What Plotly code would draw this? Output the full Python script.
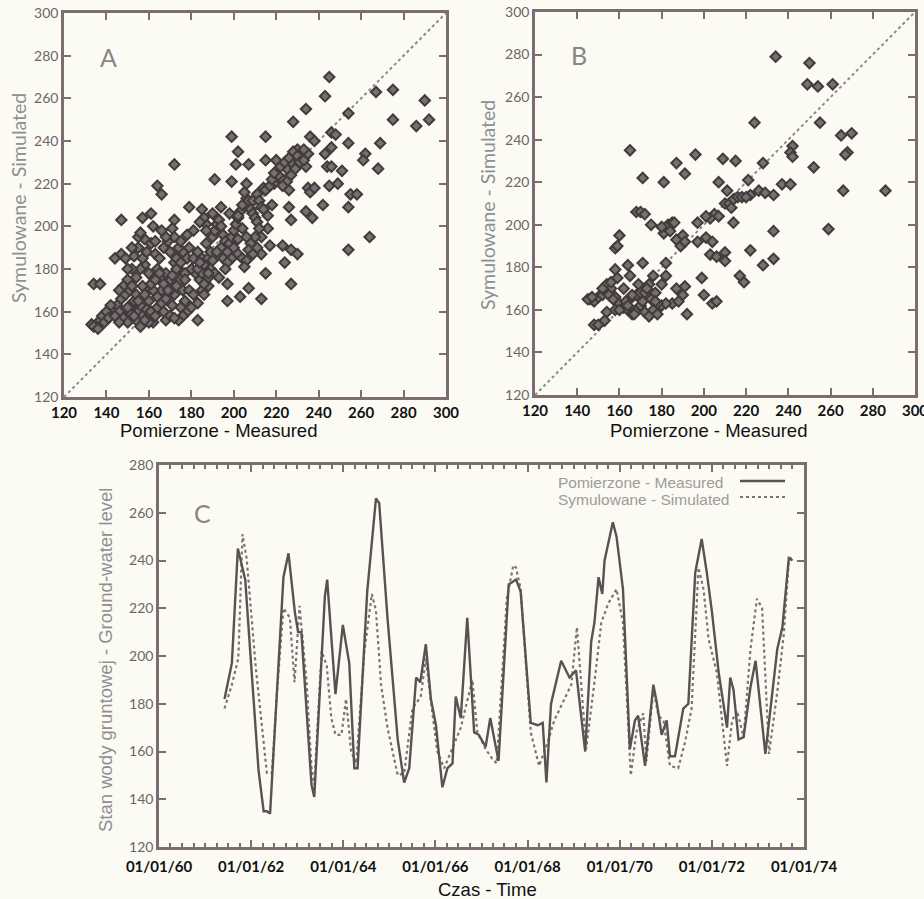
import plotly.graph_objects as go
import pandas as pd

# ---------------- Panel A: measured vs simulated (calibration) ----------------
meas_a = [
    245, 243, 267, 275, 290, 292, 286, 275, 254, 234, 228, 215, 199, 202, 201, 207, 172, 191, 199,
    164, 166, 147, 157, 161, 172, 179, 185, 181, 187, 144, 147, 134, 137, 183, 197, 197, 203, 207,
    213, 215, 227, 224, 217, 223, 227, 230, 213, 216, 213, 227, 226, 226, 223, 225, 227, 232, 234,
    230, 234, 235, 236, 238, 234, 237, 242, 245, 249, 251, 243, 246, 244, 246, 246, 248, 236, 238,
    254, 255, 258, 254, 262, 261, 268, 269, 264, 254, 220, 215, 219, 221, 214,
    # dense low cluster
    133, 134, 136, 137, 138, 140, 139, 141, 143, 145, 147, 146, 148, 150, 151, 152, 149, 151, 153,
    155, 154, 156, 157, 158, 160, 159, 161, 162, 163, 165, 164, 166, 167, 168, 170, 171, 172, 173,
    170, 168, 166, 164, 162, 160, 158, 156, 154, 152, 150, 148, 146, 153, 155, 157, 159, 161, 163,
    165, 167, 169, 170, 172, 174, 175, 176, 177, 178, 180, 179, 181, 183, 185, 184, 182, 180, 178,
    176, 174, 172, 171, 168, 173, 177, 179, 181, 160, 158, 156, 154, 152, 157, 162, 164, 166, 168,
    170, 175, 176, 174, 172, 142, 144, 146, 150, 153, 155, 158, 161, 163, 165, 167, 169, 171, 173,
    175, 177, 186, 188, 187, 185, 183, 162, 166, 158, 155, 150, 149, 152, 156, 163, 178, 175,
    # diagonal band
    186, 188, 189, 187, 190, 191, 192, 193, 194, 195, 196, 194, 192, 190, 189, 191, 193, 195, 197,
    198, 199, 200, 201, 202, 203, 204, 206, 205, 207, 208, 209, 210, 211, 212, 210, 208, 206, 204,
    202, 200, 202, 204, 206, 205, 207, 209, 211, 199, 197, 196, 188, 186, 185, 183, 184, 187, 188,
    209, 211, 212, 213, 215, 217, 218, 219, 222, 224, 226, 228, 230, 231, 233, 235, 233, 229, 227,
    225, 223, 216, 214, 218, 206, 202, 198, 194, 190, 186, 184,
]
sim_a = [
    270, 261, 263, 264, 259, 250, 247, 250, 253, 255, 249, 242, 242, 235, 229, 229, 229, 222, 221,
    219, 215, 203, 204, 206, 203, 209, 208, 198, 201, 185, 187, 173, 173, 156, 173, 165, 167, 171,
    166, 178, 173, 183, 191, 191, 189, 187, 187, 199, 195, 203, 209, 217, 222, 227, 230, 232, 228,
    236, 234, 218, 216, 218, 207, 204, 210, 219, 220, 226, 234, 237, 228, 228, 244, 243, 242, 240,
    239, 215, 215, 209, 234, 231, 227, 239, 195, 189, 231, 231, 220, 224, 218,
    # dense low cluster
    154, 153, 152, 156, 158, 160, 155, 157, 162, 163, 166, 160, 157, 155, 160, 163, 168, 170, 165,
    160, 156, 153, 158, 162, 165, 170, 160, 155, 158, 162, 167, 170, 160, 156, 158, 163, 168, 172,
    175, 178, 175, 180, 176, 178, 182, 180, 176, 180, 175, 172, 170, 186, 190, 185, 188, 192, 187,
    185, 190, 193, 188, 183, 180, 175, 170, 165, 160, 162, 170, 168, 164, 170, 175, 178, 180, 185,
    188, 190, 195, 199, 195, 185, 178, 190, 185, 155, 156, 163, 168, 172, 172, 170, 162, 164, 166,
    170, 162, 158, 156, 157, 163, 158, 155, 162, 158, 165, 168, 173, 175, 178, 173, 170, 177, 180,
    183, 175, 168, 172, 180, 185, 188, 200, 198, 194, 195, 180, 185, 190, 197, 193, 196, 193,
    # diagonal band
    182, 185, 188, 192, 195, 198, 201, 203, 200, 196, 193, 190, 188, 184, 180, 178, 176, 185, 188,
    192, 195, 198, 201, 204, 207, 210, 213, 216, 212, 208, 206, 204, 202, 199, 195, 192, 195, 199,
    194, 190, 187, 185, 184, 181, 189, 187, 190, 185, 183, 180, 176, 173, 178, 180, 183, 198, 178,
    212, 215, 212, 209, 217, 219, 222, 225, 228, 230, 232, 235, 233, 230, 231, 234, 236, 227, 224,
    221, 219, 205, 208, 210, 220, 205, 206, 209, 206, 204, 202,
]

# ---------------- Panel B: measured vs simulated (verification) ----------------
meas_b = [
    234, 250, 249, 254, 261, 255, 224, 265, 270, 268, 267, 266, 286, 259, 242, 241, 242, 252, 237,
    241, 233, 228, 226, 222, 229, 221, 215, 209, 196, 187, 191, 171, 181, 165, 207, 211,
    205, 207, 203, 210, 212, 214, 216, 218, 220, 213, 233, 233, 228, 222, 214, 217, 219, 201, 203,
    206, 210, 210, 199, 200, 204, 206, 204, 192, 197, 197, 201, 183, 185, 181, 187, 190, 189, 191,
    182, 171, 164, 158, 158, 160, 168, 170, 172, 175, 180, 184, 186, 165, 159, 182, 180, 187, 190,
    191, 185, 188, 176, 174, 177,
    146, 148, 150, 152, 154, 155, 156, 158, 160, 162, 164, 166, 168, 170, 172, 174, 176, 178, 180,
    182, 158, 160, 155, 157, 159, 168, 170, 165, 163, 148, 150, 153, 154, 175, 178, 170, 172, 145,
    147, 152, 156, 162, 166, 169, 173, 177, 164, 167, 171,
]
sim_b = [
    279, 276, 266, 265, 266, 248, 248, 242, 243, 234, 233, 216, 216, 198, 237, 234, 232, 227, 219,
    219, 214, 229, 216, 214, 215, 221, 230, 231, 233, 229, 224, 222, 220, 235, 220, 216,
    205, 204, 203, 210, 210, 212, 213, 213, 213, 208, 197, 184, 181, 188, 201, 176, 173, 194, 186,
    185, 187, 183, 175, 167, 163, 164, 192, 158, 192, 201, 204, 200, 201, 196, 193, 195, 190, 192,
    182, 182, 181, 179, 189, 195, 206, 206, 205, 200, 199, 197, 201, 176, 190, 176, 172, 170, 167,
    171, 163, 164, 176, 172, 168,
    165, 164, 166, 167, 172, 168, 170, 166, 163, 161, 160, 158, 160, 162, 159, 157, 160, 158, 162,
    163, 160, 160, 167, 165, 175, 167, 168, 165, 164, 153, 153, 155, 159, 165, 163, 162, 168, 165,
    166, 170, 173, 170, 167, 172, 170, 164, 162, 158, 164,
]

# ---------------- Panel C: ground-water level time series ----------------
t_meas = [
    1961.42, 1961.58, 1961.71, 1961.87, 1962.00, 1962.16, 1962.27, 1962.34, 1962.41, 1962.52,
    1962.70, 1962.81, 1962.95, 1963.02, 1963.09, 1963.31, 1963.37, 1963.60, 1963.65, 1963.83,
    1963.99, 1964.13, 1964.24, 1964.31, 1964.52, 1964.71, 1964.78, 1964.96, 1965.18, 1965.32,
    1965.43, 1965.58, 1965.67, 1965.79, 1965.90, 1966.01, 1966.15, 1966.26, 1966.37, 1966.44,
    1966.55, 1966.69, 1966.84, 1966.94, 1967.09, 1967.19, 1967.37, 1967.59, 1967.75, 1967.85,
    1968.07, 1968.22, 1968.33, 1968.41, 1968.51, 1968.73, 1968.91, 1969.05, 1969.25, 1969.38,
    1969.45, 1969.54, 1969.62, 1969.67, 1969.78, 1969.85, 1969.93, 1970.07, 1970.22, 1970.33,
    1970.40, 1970.55, 1970.73, 1970.80, 1970.91, 1971.02, 1971.09, 1971.20, 1971.38, 1971.49,
    1971.64, 1971.78, 1971.89, 1972.00, 1972.15, 1972.33, 1972.40, 1972.47, 1972.58, 1972.69,
    1972.84, 1972.95, 1973.16, 1973.42, 1973.53, 1973.67, 1973.75,
]
v_meas = [
    182, 197, 245, 232, 196, 152, 135, 135, 134, 171,
    233, 243, 218, 210, 210, 146, 141, 225, 232, 184,
    213, 197, 153, 153, 227, 266, 264, 216, 165, 147,
    153, 191, 189, 205, 182, 171, 145, 153, 155, 183,
    174, 216, 168, 167, 162, 174, 156, 230, 232, 227,
    172, 171, 172, 147, 180, 198, 191, 194, 160, 206,
    214, 233, 226, 240, 250, 256, 250, 228, 161, 173,
    175, 154, 188, 181, 167, 173, 158, 158, 178, 180,
    235, 249, 235, 219, 193, 170, 191, 186, 165, 166,
    187, 198, 159, 203, 212, 241, 240,
]
t_sim = [
    1961.42, 1961.58, 1961.72, 1961.81, 1961.90, 1962.10, 1962.34, 1962.45, 1962.56, 1962.70,
    1962.84, 1962.94, 1963.05, 1963.20, 1963.31, 1963.37, 1963.53, 1963.64, 1963.74, 1963.83,
    1963.96, 1964.06, 1964.17, 1964.28, 1964.46, 1964.62, 1964.71, 1964.82, 1964.96, 1965.18,
    1965.32, 1965.50, 1965.68, 1965.79, 1965.90, 1966.04, 1966.19, 1966.40, 1966.55, 1966.80,
    1966.91, 1967.09, 1967.23, 1967.33, 1967.55, 1967.69, 1967.75, 1967.85, 1968.07, 1968.25,
    1968.44, 1968.58, 1968.80, 1968.95, 1969.07, 1969.16, 1969.27, 1969.45, 1969.60, 1969.75,
    1969.93, 1970.07, 1970.24, 1970.36, 1970.51, 1970.58, 1970.73, 1970.84, 1970.95, 1971.09,
    1971.27, 1971.42, 1971.56, 1971.71, 1971.82, 1971.93, 1972.11, 1972.33, 1972.44, 1972.55,
    1972.69, 1972.84, 1972.98, 1973.09, 1973.24, 1973.42, 1973.56, 1973.67, 1973.75,
]
v_sim = [
    178, 188, 199, 251, 241, 195, 151, 151, 185, 220,
    216, 189, 221, 190, 153, 146, 202, 196, 174, 167,
    167, 182, 160, 155, 202, 226, 219, 188, 170, 150,
    151, 178, 183, 199, 181, 160, 153, 163, 170, 190,
    168, 161, 157, 155, 224, 238, 237, 228, 168, 154,
    164, 173, 182, 188, 212, 188, 161, 189, 214, 222,
    228, 214, 150, 168, 176, 156, 186, 175, 173, 154,
    153, 164, 178, 237, 228, 207, 193, 154, 173, 177,
    166, 203, 224, 220, 159, 185, 209, 240, 242,
]

diag = [120, 300]
xtick_vals = [120, 140, 160, 180, 200, 220, 240, 260, 280, 300]
ytick_c = [120, 140, 160, 180, 200, 220, 240, 260, 280]


def to_dates(years):
    out = []
    for y in years:
        yr = int(y)
        out.append(pd.Timestamp(f"{yr}-01-01") + pd.Timedelta(days=(y - yr) * 365.25))
    return out


BG = "#fbfbf4"
FRAME = "#7b6d70"
MARK_FILL = "#767070"
MARK_LINE = "#433b3b"
GRAY_TXT = "#8f8f8f"
W, H = 924, 899

fig = go.Figure()

scatter_marker = dict(symbol="diamond", size=8, color=MARK_FILL,
                      line=dict(color=MARK_LINE, width=2))

# 1:1 reference lines
fig.add_trace(go.Scatter(x=diag, y=diag, mode="lines", xaxis="x", yaxis="y",
                         line=dict(color="#8a8a8a", width=2, dash="dot"), showlegend=False))
fig.add_trace(go.Scatter(x=diag, y=diag, mode="lines", xaxis="x2", yaxis="y2",
                         line=dict(color="#8a8a8a", width=2, dash="dot"), showlegend=False))

fig.add_trace(go.Scatter(x=meas_a, y=sim_a, mode="markers", xaxis="x", yaxis="y",
                         marker=scatter_marker, showlegend=False))
fig.add_trace(go.Scatter(x=meas_b, y=sim_b, mode="markers", xaxis="x2", yaxis="y2",
                         marker=scatter_marker, showlegend=False))

fig.add_trace(go.Scatter(x=to_dates(t_sim), y=v_sim, mode="lines", xaxis="x3", yaxis="y3",
                         line=dict(color="#7a7474", width=2.2, dash="dot"), showlegend=False))
fig.add_trace(go.Scatter(x=to_dates(t_meas), y=v_meas, mode="lines", xaxis="x3", yaxis="y3",
                         line=dict(color="#5a5252", width=2.4), showlegend=False))


def px_x(p):
    return p / W


def px_y(p):
    return 1 - p / H


xtick_font = dict(family="Lato", size=15, color="#111111", weight="bold")
ytick_font = dict(family="Lato", size=14, color="#6e6666")

common_axis = dict(showline=True, linecolor=FRAME, linewidth=2.5, mirror="ticks",
                   ticks="inside", ticklen=7, tickcolor=FRAME, tickwidth=2,
                   showgrid=False, zeroline=False, automargin=False)

fig.update_layout(
    width=W, height=H,
    margin=dict(l=0, r=0, t=0, b=0, autoexpand=False),
    paper_bgcolor=BG, plot_bgcolor=BG,
    xaxis=dict(domain=[px_x(64), px_x(446)], range=[120, 300], tickvals=xtick_vals,
               tickfont=xtick_font, anchor="y", **common_axis),
    yaxis=dict(domain=[px_y(397), px_y(13)], range=[120, 300], tickvals=xtick_vals,
               tickfont=ytick_font, anchor="x", **common_axis),
    xaxis2=dict(domain=[px_x(535), px_x(915)], range=[120, 300], tickvals=xtick_vals,
                tickfont=xtick_font, anchor="y2", ticklabeloverflow="allow", **common_axis),
    yaxis2=dict(domain=[px_y(395), px_y(12)], range=[120, 300], tickvals=xtick_vals,
                tickfont=ytick_font, anchor="x2", **common_axis),
    xaxis3=dict(domain=[px_x(159), px_x(804)], range=["1960-01-01", "1974-01-01"],
                type="date", tick0="1960-01-01", dtick="M24", tickformat="%m/%d/%y",
                tickfont=xtick_font, anchor="y3", ticklabelstandoff=4,
                minor=dict(dtick="M3", ticks="inside", ticklen=4, tickcolor=FRAME, tickwidth=1.5),
                **common_axis),
    yaxis3=dict(domain=[px_y(847), px_y(465)], range=[120, 280], tickvals=ytick_c,
                tickfont=ytick_font, anchor="x3", **common_axis),
)

title_font = dict(family="Liberation Sans", size=18.5, color="#111111")
ytitle_font = dict(family="Lato", size=19.5, color=GRAY_TXT)
letter_font = dict(family="Lato", size=25, color="#8a8585")
legend_font = dict(family="Liberation Sans", size=15.5, color="#a09a9a")

annotations = [
    dict(text="Pomierzone - Measured", x=px_x(218), y=px_y(430), font=title_font),
    dict(text="Pomierzone - Measured", x=px_x(708), y=px_y(430), font=title_font),
    dict(text="Czas - Time", x=px_x(487), y=px_y(889), font=title_font),
    dict(text="Symulowane - Simulated", x=px_x(18), y=px_y(198), textangle=-90, font=ytitle_font),
    dict(text="Symulowane - Simulated", x=px_x(487), y=px_y(205), textangle=-90, font=ytitle_font),
    dict(text="Stan wody gruntowej - Ground-water level", x=px_x(105), y=px_y(660),
         textangle=-90, font=dict(family="Liberation Sans", size=18.5, color=GRAY_TXT)),
    dict(text="A", x=px_x(108), y=px_y(57), font=letter_font),
    dict(text="B", x=px_x(579), y=px_y(55), font=letter_font),
    dict(text="C", x=px_x(202), y=px_y(513), font=letter_font),
    dict(text="Pomierzone - Measured", x=px_x(725), y=px_y(482), xanchor="right", font=legend_font),
    dict(text="Symulowane - Simulated", x=px_x(731), y=px_y(500), xanchor="right", font=legend_font),
]
for a in annotations:
    a.setdefault("xanchor", "center")
    fig.add_annotation(xref="paper", yref="paper", showarrow=False, yanchor="middle", **a)

# legend samples drawn beside the labels
fig.add_shape(type="line", xref="paper", yref="paper", x0=px_x(740), x1=px_x(785),
              y0=px_y(481), y1=px_y(481), line=dict(color="#5a5252", width=2.4))
fig.add_shape(type="line", xref="paper", yref="paper", x0=px_x(740), x1=px_x(786),
              y0=px_y(497), y1=px_y(497), line=dict(color="#7a7474", width=2.2, dash="dot"))

fig.write_html("out.html")
